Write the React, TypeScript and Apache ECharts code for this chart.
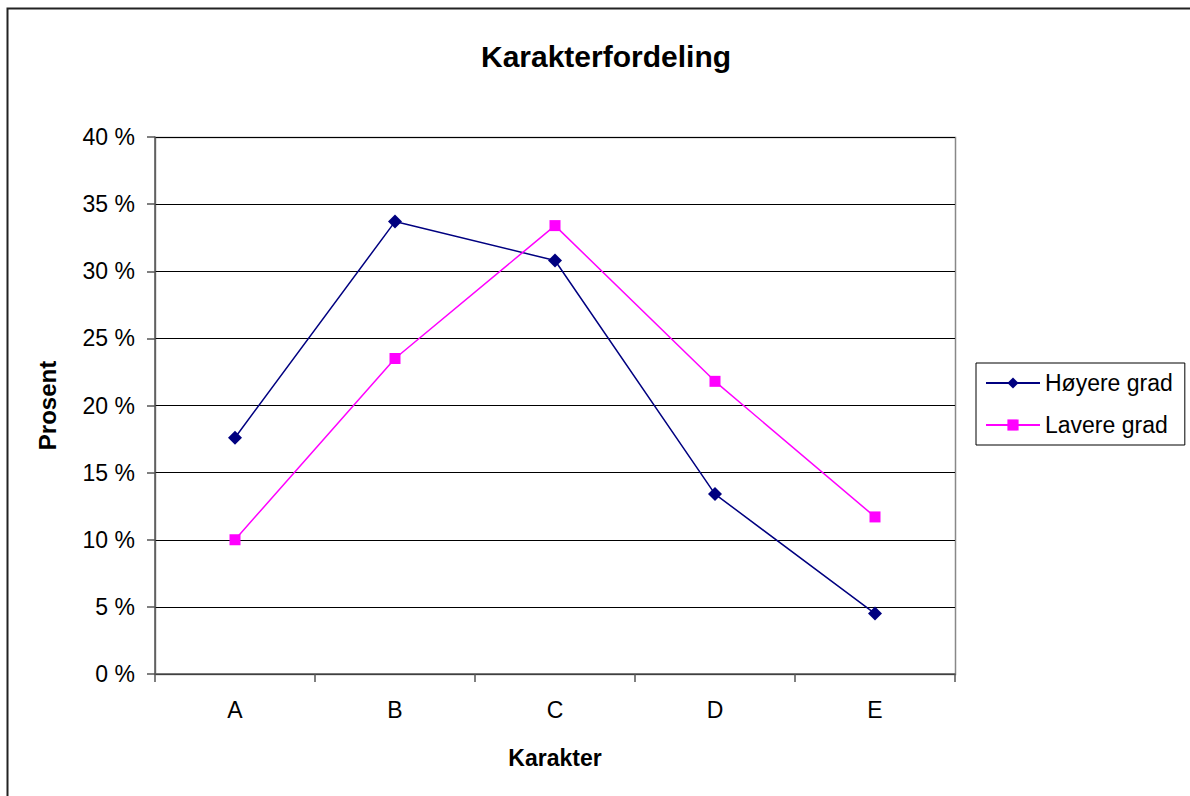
import React, { useEffect, useRef } from "react";
import * as echarts from "echarts";

const categories = ["A", "B", "C", "D", "E"];
const hoyere = [17.6, 33.7, 30.8, 13.4, 4.5];
const lavere = [10.0, 23.5, 33.4, 21.8, 11.7];
const seriesNames = ["Høyere grad", "Lavere grad"];

const FONT = "'Liberation Sans', Arial, sans-serif";

export default function App() {
  const ref = useRef<HTMLDivElement>(null);
  useEffect(() => {
    const chart = echarts.init(ref.current!, null, { renderer: "svg" });
    chart.setOption({
      animation: false,
      backgroundColor: "#fff",
      textStyle: { fontFamily: FONT },
      title: {
        text: "Karakterfordeling",
        left: 601,
        top: 36,
        textAlign: "center",
        textStyle: { fontFamily: FONT, fontSize: 30, fontWeight: "bold", color: "#000" },
      },
      graphic: [
        {
          type: "rect",
          shape: { x: 7.5, y: 8.5, width: 1200, height: 800 },
          style: { fill: "none", stroke: "#222", lineWidth: 2 },
          silent: true,
        },
        {
          type: "rect",
          shape: { x: 155.5, y: 137.5, width: 800, height: 537 },
          style: { fill: "none", stroke: "#888", lineWidth: 1.5 },
          silent: true,
          z: 0,
        },
      ],
      legend: {
        orient: "vertical",
        left: 976,
        top: 363,
        padding: [8, 12, 8, 9],
        itemGap: 18,
        itemWidth: 54,
        itemHeight: 14,
        borderColor: "#000",
        borderWidth: 1,
        borderRadius: 0,
        textStyle: { fontFamily: FONT, fontSize: 23, lineHeight: 24, color: "#000" },
        data: seriesNames,
      },
      grid: { left: 155, top: 137, width: 800, height: 537, containLabel: false },
      xAxis: {
        type: "category",
        data: categories,
        boundaryGap: true,
        name: "Karakter",
        nameLocation: "middle",
        nameGap: 72,
        nameTextStyle: { fontFamily: FONT, fontSize: 23, fontWeight: "bold", color: "#000" },
        axisLine: { lineStyle: { color: "#555", width: 1.5 } },
        axisTick: { show: true, inside: false, length: 8, alignWithLabel: false, lineStyle: { color: "#555", width: 1.5 } },
        axisLabel: { fontFamily: FONT, fontSize: 23, color: "#000", margin: 24 },
        splitLine: { show: false },
      },
      yAxis: {
        type: "value",
        min: 0,
        max: 40,
        interval: 5,
        name: "Prosent",
        nameLocation: "middle",
        nameGap: 96,
        nameRotate: 90,
        nameTextStyle: { fontFamily: FONT, fontSize: 24, fontWeight: "bold", color: "#000" },
        axisLine: { show: true, lineStyle: { color: "#555", width: 1.5 } },
        axisTick: { show: true, inside: false, length: 8, lineStyle: { color: "#555", width: 1.5 } },
        axisLabel: { fontFamily: FONT, fontSize: 23, color: "#000", margin: 20, formatter: (v: number) => `${v} %` },
        splitLine: { show: true, lineStyle: { color: "#000", width: 1 } },
      },
      series: [
        {
          name: seriesNames[0],
          type: "line",
          data: hoyere,
          symbol: "diamond",
          symbolSize: 14,
          color: "#000080",
          lineStyle: { color: "#000080", width: 1.5 },
          itemStyle: { color: "#000080" },
        },
        {
          name: seriesNames[1],
          type: "line",
          data: lavere,
          symbol: "rect",
          symbolSize: 11,
          color: "#ff00ff",
          lineStyle: { color: "#ff00ff", width: 1.5 },
          itemStyle: { color: "#ff00ff" },
        },
      ],
    });
    return () => chart.dispose();
  }, []);
  return (
    <div
      ref={ref}
      style={{ position: "absolute", left: 0, top: 0, width: 1190, height: 796 }}
    />
  );
}
